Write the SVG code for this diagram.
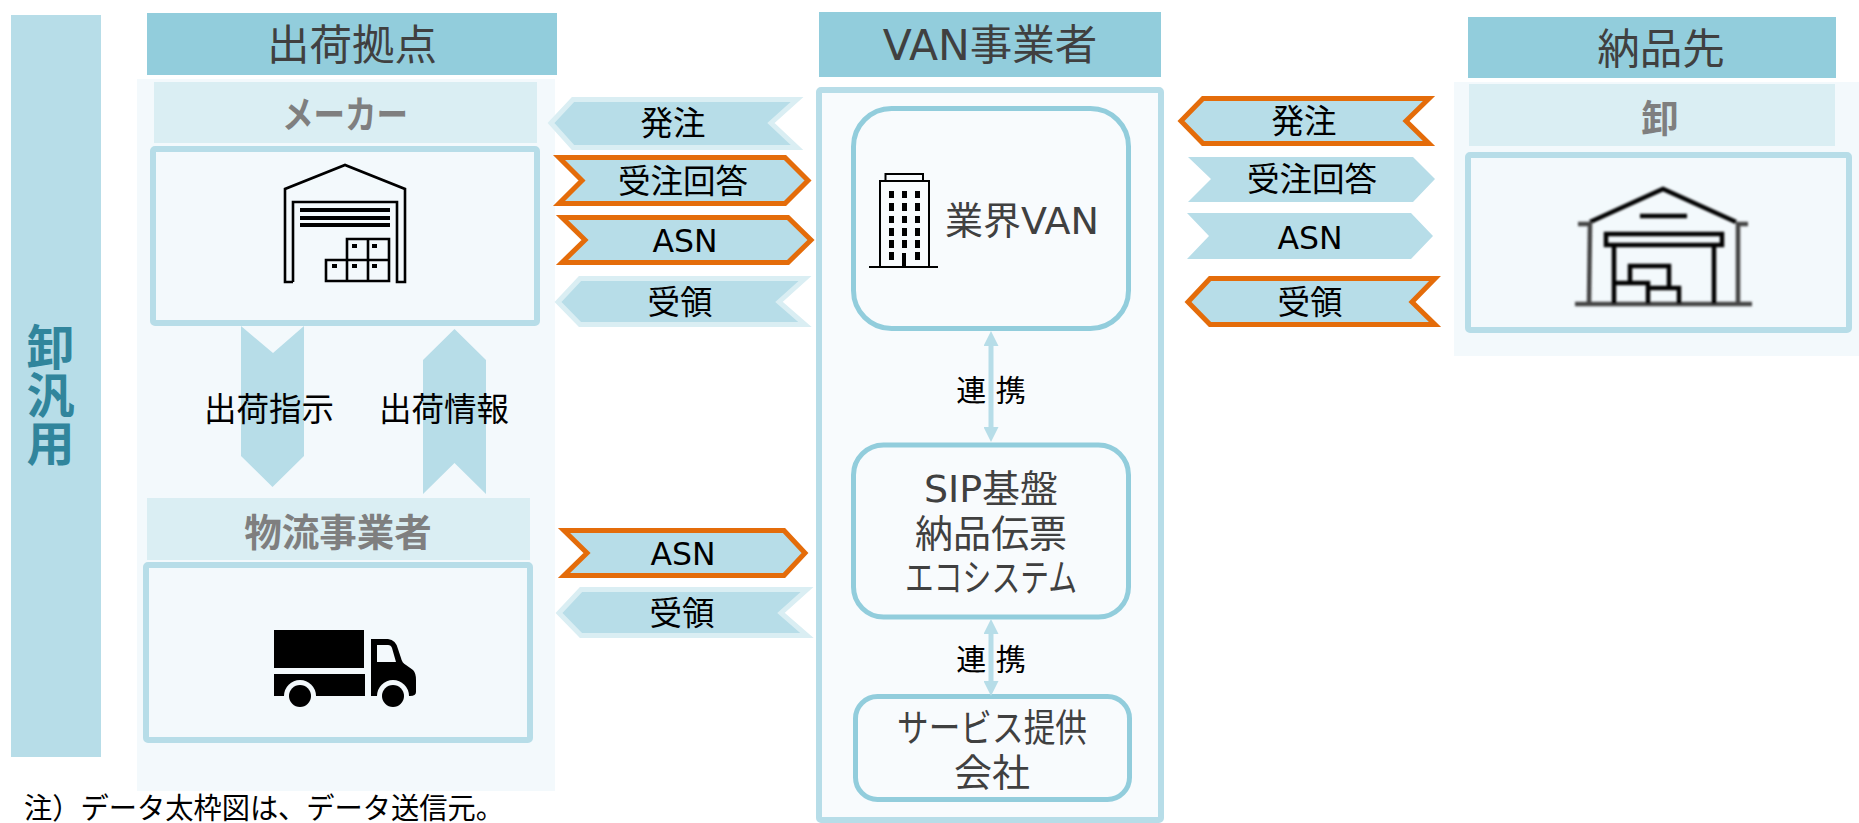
<svg xmlns="http://www.w3.org/2000/svg" width="1859" height="823" viewBox="0 0 1859 823">
<style>
text{font-family:"DejaVu Sans","Noto Sans CJK JP",sans-serif;text-anchor:middle}
.hd{fill:#92cddc}.hdt{font-size:42.500px;fill:#404040}
.sub{fill:#daeef3}.subt{font-size:37.500px;font-weight:700;fill:#7f7f7f}
.box{fill:#f3f9fc;stroke:#b7dde8;stroke-width:6}
.pan{fill:#f3f9fc}
.rbox{fill:#f8fbfd;stroke:#92cddc;stroke-width:5}
.rt{font-size:38px;fill:#404040}
.lb{font-size:32.500px;fill:#000}
.as{font-size:31.500px}
.lk{font-size:30px}
.ch{fill:#b7dde8}
.lt{stroke:#daeef3;stroke-width:5}
.or{stroke:#e46c0a;stroke-width:5}
.ln{stroke:#b7dde8;stroke-width:5;fill:none}
.ic{fill:none;stroke:#000;stroke-width:2.600}
</style>
<defs>
<marker id="ah" viewBox="0 0 15 15" refX="8" refY="7.500" markerWidth="15" markerHeight="15" markerUnits="userSpaceOnUse" orient="auto-start-reverse"><path d="M0,0L15,7.500L0,15Z" fill="#b7dde8"/></marker>
<filter id="bl" x="-5%" y="-5%" width="110%" height="110%"><feGaussianBlur stdDeviation="0.8"/></filter>
</defs>
<rect width="1859" height="823" fill="#fff"/>
<g id="category"><rect x="11" y="15" width="90" height="742" fill="#b7dde8"/><text x="46.500" y="395" style="font-size:48px;font-weight:700;fill:#31859c;writing-mode:vertical-rl">卸汎用</text></g>

<g id="shipping">
<rect class="pan" x="137" y="79" width="418" height="712"/>
<rect class="hd" x="147" y="13" width="410" height="62"/><text class="hdt" x="352" y="60">出荷拠点</text>
</g>
<g id="maker">
<rect class="sub" x="154" y="82" width="383" height="61"/><text class="subt" x="345" y="128" textLength="126" lengthAdjust="spacingAndGlyphs">メーカー</text>
<rect class="box" x="153" y="149" width="384" height="174" rx="2"/>
<path class="ic" d="M293,282H285V189L345,165L405,189V282H397V202H293V282"/>
<path d="M300,208h90v4h-90zM300,216h90v4h-90zM300,223h90v4h-90z"/>
<path class="ic" d="M347,260V239H389V281H326V260H389M368,239V281M347,260V281"/>
<path d="M352,244h5v4h-5zM372,244h5v4h-5zM332,264h5v4h-5zM352,264h5v4h-5zM372,264h5v4h-5z"/>
</g>
<g id="carrier">
<rect class="sub" x="147" y="498" width="383" height="62"/><text class="subt" x="338" y="546">物流事業者</text>
<rect class="box" x="146" y="565" width="384" height="175" rx="2"/>
<path d="M274,630H364V668H274ZM274,674H365V696H274Z"/>
<path fill-rule="evenodd" d="M371,639H388Q396,640 398,649L401,658Q402,663 406,665L413,670Q416,673 416,680V692Q416,696 410,696H371ZM377,645V662H396L392,648Q391,645 388,645Z"/>
<circle cx="300" cy="696" r="16" fill="#f3f9fc"/><circle cx="393" cy="696" r="16" fill="#f3f9fc"/>
<circle cx="300" cy="696" r="11"/><circle cx="393" cy="696" r="11"/>
</g>

<g id="van">
<rect x="819" y="90" width="342" height="730" fill="#f8fbfd" stroke="#b7dde8" stroke-width="6" rx="2"/>
<rect class="hd" x="819" y="12" width="342" height="65"/><text class="hdt" x="990" y="60">VAN事業者</text>
</g>
<g id="industry-van">
<rect class="rbox" x="853.500" y="108.500" width="275" height="220" rx="38"/>
<text class="rt" x="1022" y="234">業界VAN</text>
<path d="M869,266H938V268H869Z"/>
<path fill="none" stroke="#000" stroke-width="2" d="M880,267V181H929V267M885.500,181V174H923V181"/>
<path d="M889,191h5v7h-5zM902,191h5v7h-5zM915,191h5v7h-5zM889,203h5v8h-5zM902,203h5v8h-5zM915,203h5v8h-5zM889,216h5v7h-5zM902,216h5v7h-5zM915,216h5v7h-5zM889,228h5v8h-5zM902,228h5v8h-5zM915,228h5v8h-5zM889,240h5v8h-5zM902,240h5v8h-5zM915,240h5v8h-5zM889,252h5v8h-5zM915,252h5v8h-5zM902,253h4v14h-4z"/>
</g>
<g id="sip">
<rect class="rbox" x="853.500" y="445" width="275" height="172" rx="30"/>
<text class="rt" x="991" y="502">SIP基盤</text><text class="rt" x="991" y="547">納品伝票</text><text class="rt" x="991" y="591" textLength="172" lengthAdjust="spacingAndGlyphs">エコシステム</text>
</g>
<g id="service">
<rect class="rbox" x="855.500" y="696.500" width="274" height="103" rx="22"/>
<text class="rt" x="992" y="741" textLength="190" lengthAdjust="spacingAndGlyphs">サービス提供</text><text class="rt" x="992" y="786">会社</text>
</g>

<g id="wholesaler">
<rect class="pan" x="1454" y="82" width="405" height="274"/>
<rect class="hd" x="1468" y="17" width="368" height="61"/><text class="hdt" x="1661" y="64">納品先</text>
<rect class="sub" x="1469" y="84" width="366" height="62"/><text class="subt" x="1660" y="132">卸</text>
<rect class="box" x="1468" y="155" width="381" height="175" rx="2"/>
<g filter="url(#bl)">
<path fill="none" stroke="#000" stroke-width="4.500" d="M1590,222L1663,189L1736,222M1640,216H1687"/>
<path fill="none" stroke="#444" stroke-width="4.500" d="M1578,224H1590L1589,304M1748,224H1738V304M1575,304H1752"/>
<path fill="none" stroke="#000" stroke-width="4.500" d="M1606,234H1722V245H1606ZM1614,245V304M1714,245V304M1630,283V266H1669V288M1614,283H1648V304M1649,288H1679V304"/>
</g>
</g>

<g id="connectors">
<path class="ln" d="M991,338V435" marker-start="url(#ah)" marker-end="url(#ah)"/>
<path class="ln" d="M991,626V689" marker-start="url(#ah)" marker-end="url(#ah)"/>
<path class="ch" d="M241,326L273,353L304,326V456L272.500,487L241,456Z"/>
<path class="ch" d="M423,360L454.500,329L486,360V494L454.500,463L423,494Z"/>
<text class="lb" x="269" y="421">出荷指示</text><text class="lb" x="444" y="421">出荷情報</text>

<path class="ch lt" d="M551,123L573,99.500H797L771,123L797,147.500H573Z"/><text class="lb" x="673" y="135">発注</text>
<path class="ch or" d="M559,157.500H785L808,180.500L785,203.500H559L582,180.500Z"/><text class="lb" x="683" y="193">受注回答</text>
<path class="ch or" d="M562,217.500H788L811,240L788,262.500H562L585,240Z"/><text class="lb as" x="685" y="252">ASN</text>
<path class="ch lt" d="M558,302L580,278.500H805L779,302L805,324.500H580Z"/><text class="lb" x="680" y="314">受領</text>
<path class="ch or" d="M564,530.500H784L805,553L784,575.500H564L587,553Z"/><text class="lb as" x="683" y="565">ASN</text>
<path class="ch lt" d="M559,613L581,589.500H807L781,613L807,635.500H581Z"/><text class="lb" x="682" y="625">受領</text>

<path class="ch or" d="M1181,121L1203,98.500H1429L1406,121L1429,143.500H1203Z"/><text class="lb" x="1304" y="133">発注</text>
<path class="ch" d="M1188,157H1413L1435,179L1413,202H1188L1211,179Z"/><text class="lb" x="1312" y="191">受注回答</text>
<path class="ch" d="M1187,213H1411L1433,236L1411,259H1187L1209,236Z"/><text class="lb as" x="1310" y="249">ASN</text>
<path class="ch or" d="M1188,302L1210,278.500H1435L1412,302L1435,324.500H1210Z"/><text class="lb" x="1310" y="314">受領</text>

<text class="lb lk" x="991" y="401" xml:space="preserve">連 携</text>
<text class="lb lk" x="991" y="670" xml:space="preserve">連 携</text>
</g>
<text id="note" x="264" y="819" textLength="480" lengthAdjust="spacingAndGlyphs" style="font-size:29px;fill:#000">注）データ太枠図は、データ送信元。</text>
</svg>
